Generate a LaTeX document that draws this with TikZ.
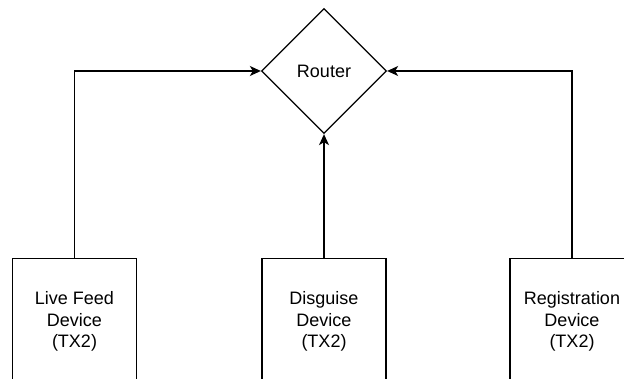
\documentclass[tikz,border=0pt]{standalone}
\usepackage{fontspec}
\setmainfont{Liberation Sans}
\usetikzlibrary{shapes.geometric,arrows.meta}
\begin{document}
\begin{tikzpicture}[x=1pt,y=-1pt,
  devbox/.style={draw, line width=1.3pt, minimum width=124pt, minimum height=126pt, align=center, inner sep=0pt,
    font=\fontsize{18}{21.5}\selectfont},
  routershape/.style={draw, diamond, line width=1.3pt, minimum width=125pt, minimum height=125pt, inner sep=0pt, aspect=1,
    font=\fontsize{18}{21.5}\selectfont},
  conn/.style={line width=1.3pt, -{Stealth[length=11pt,width=10pt,inset=3pt]}}]
\useasboundingbox (0,0) rectangle (624,379);
\clip (0,0) rectangle (624,379);
\node[routershape] (router) at (324,71) {Router};
\node[devbox] (live) at (74.5,321.5) {Live Feed\\Device\\(TX2)};
\node[devbox] (disg) at (324,321.5) {Disguise\\Device\\(TX2)};
\node[devbox] (reg) at (572,321.5) {Registration\\Device\\(TX2)};
\draw[conn] (live.north) |- (router.west);
\draw[conn] (disg.north) -- (router.south);
\draw[conn] (reg.north) |- (router.east);
\end{tikzpicture}
\end{document}
